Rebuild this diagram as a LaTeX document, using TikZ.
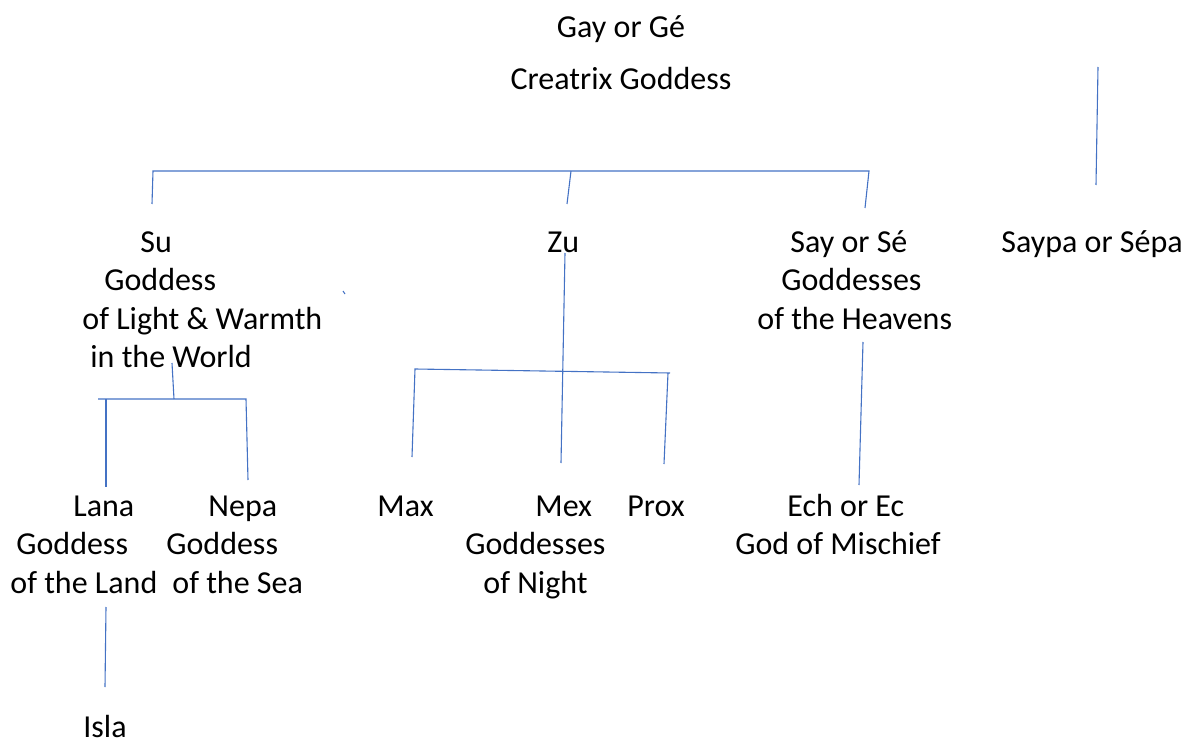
\documentclass[tikz,border=0pt]{standalone}
\usepackage{fontspec}
\setmainfont{Carlito}
\usetikzlibrary{positioning}
\definecolor{linkblue}{HTML}{4472C4}
\tikzset{
  deity/.style={anchor=north west,inner sep=0pt,align=left,
    font=\fontsize{16pt}{19.2pt}\selectfont},
  link/.style={draw=linkblue,line width=0.55pt}
}
\begin{document}
\begin{tikzpicture}[x={(0.5pt,0)},y={(0,-0.5pt)}]
\useasboundingbox (0,0) rectangle (1189,743);
\node[deity,anchor=north,align=center] (gay) at (621,10) {\strut Gay or Gé\\[6.8pt]Creatrix Goddess};
\node[deity] (su) at (82,225) {\strut\hspace*{29pt}Su\\\hspace*{11pt}Goddess\\of Light \& Warmth\\\hspace*{4pt}in the World};
\node[deity] (zu) at (547,225) {\strut Zu};
\node[deity] (say) at (757,225) {\strut\hspace*{16.5pt}Say or Sé\\\hspace*{12pt}Goddesses\\of the Heavens};
\node[deity] (saypa) at (1001,225) {\strut Saypa or Sépa};
\node[deity] (lana) at (10,489) {\strut\hspace*{31.5pt}Lana\\\hspace*{3pt}Goddess\\of the Land};
\node[deity] (nepa) at (166,489) {\strut\hspace*{21pt}Nepa\\Goddess\\\hspace*{3pt}of the Sea};
\node[deity] (max) at (377,489) {\strut Max};
\node[deity] (mex) at (465,489) {\strut\hspace*{35pt}Mex\\Goddesses\\\hspace*{9pt}of Night};
\node[deity] (prox) at (627,489) {\strut Prox};
\node[deity] (ech) at (735,489) {\strut\hspace*{26pt}Ech or Ec\\God of Mischief};
\node[deity,anchor=base west] (isla) at (83,737) {Isla};
\coordinate (barL) at (153,171);
\coordinate (barM) at (571,171);
\coordinate (barR) at (869,171);
\coordinate (suIn) at (152,204);
\coordinate (zuIn) at (567,204);
\coordinate (sayIn) at (865,208);
\coordinate (saypaTop) at (1098,67);
\coordinate (saypaIn) at (1096,185);
\coordinate (suOut) at (172,363);
\coordinate (suBar) at (174,399);
\coordinate (suBarL) at (98,399);
\coordinate (suBarR) at (246,399);
\coordinate (lanaJoin) at (106,399);
\coordinate (lanaIn) at (106,487);
\coordinate (nepaIn) at (248,480);
\coordinate (lanaOut) at (106,607);
\coordinate (islaIn) at (105,687);
\coordinate (zuOut) at (565,253);
\coordinate (mexIn) at (561,463);
\coordinate (zuBarL) at (415,369);
\coordinate (zuBarR) at (670,373);
\coordinate (maxIn) at (412,457);
\coordinate (proxJoin) at (668,373);
\coordinate (proxIn) at (664,464);
\coordinate (sayOut) at (863,342);
\coordinate (echIn) at (859,485);
\coordinate (tickA) at (343,291);
\coordinate (tickB) at (345,294);
\draw[link] (suIn)--(barL)--(barR)--(sayIn);
\draw[link] (barM)--(zuIn);
\draw[link] (saypaTop)--(saypaIn);
\draw[link] (tickA)--(tickB);
\draw[link] (suOut)--(suBar);
\draw[link] (suBarL)--(suBarR)--(nepaIn);
\draw[link] (lanaJoin)--(lanaIn);
\draw[link] (lanaOut)--(islaIn);
\draw[link] (zuOut)--(mexIn);
\draw[link] (maxIn)--(zuBarL)--(zuBarR);
\draw[link] (proxJoin)--(proxIn);
\draw[link] (sayOut)--(echIn);
\end{tikzpicture}
\end{document}
